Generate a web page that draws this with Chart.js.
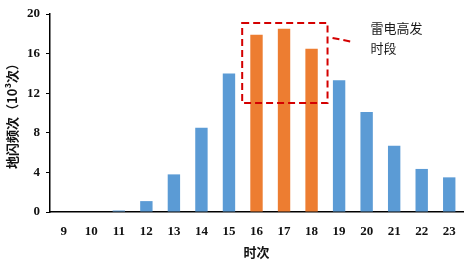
<!DOCTYPE html>
<html><head><meta charset="utf-8">
<script src="https://cdn.jsdelivr.net/npm/chart.js@4"></script>
<style>html,body{margin:0;padding:0;background:#fff}#wrap{width:476px;height:265px;position:relative}</style>
</head><body><div id="wrap"><canvas id="c" width="476" height="265"></canvas></div>
<script>
const hours = ['9','10','11','12','13','14','15','16','17','18','19','20','21','22','23'];
const flashes = [0, 0, 0.15, 1.1, 3.8, 8.5, 14.0, 17.9, 18.5, 16.5, 13.3, 10.1, 6.7, 4.35, 3.5];
const peakHours = ['16','17','18'];
const yTicks = [0, 4, 8, 12, 16, 20];
const boxRange = [11, 19.1];
const noteLines = ['雷电高发', '时段'];

const blue = '#5B9BD5', orange = '#ED7D31', red = '#D40000';
const colors = hours.map(h => peakHours.includes(h) ? orange : blue);

const boxPlugin = {
  id: 'box',
  afterDatasetsDraw(chart) {
    const {ctx, scales:{x, y}} = chart;
    const i0 = hours.indexOf(peakHours[0]);
    const i1 = hours.indexOf(peakHours[peakHours.length-1]);
    const step = x.getPixelForValue(1) - x.getPixelForValue(0);
    const left = x.getPixelForValue(i0) - step*0.52;
    const right = x.getPixelForValue(i1) + step*0.58;
    const top = y.getPixelForValue(boxRange[1]);
    const bottom = y.getPixelForValue(boxRange[0]);
    ctx.save();
    ctx.strokeStyle = red; ctx.lineWidth = 2; ctx.setLineDash([7,4]);
    ctx.strokeRect(left, top, right-left, bottom-top);
    ctx.beginPath();
    ctx.moveTo(right+5, top+15);
    ctx.lineTo(right+25, top+19);
    ctx.stroke();
    ctx.setLineDash([]);
    ctx.fillStyle = '#1a1a1a';
    ctx.font = '13px "Noto Sans CJK SC"';
    ctx.textBaseline = 'middle';
    noteLines.forEach((t, k) => ctx.fillText(t, right+43, top+5 + k*20));
    ctx.restore();
  }
};

new Chart(document.getElementById('c'), {
  type: 'bar',
  data: { labels: hours, datasets: [{ data: flashes, backgroundColor: colors, barPercentage: 0.45, categoryPercentage: 1 }] },
  options: {
    responsive: false, animation: false,
    layout: { padding: { top: 14, right: 13, left: 0, bottom: 0 } },
    plugins: { legend: { display: false }, tooltip: { enabled: false } },
    scales: {
      x: {
        grid: { display: false },
        border: { display: true, color: '#000', width: 1.5 },
        ticks: { color: '#111', font: { family: '"Liberation Serif"', size: 13, weight: 'bold' }, padding: 4, maxRotation: 0 },
        title: { display: true, text: '时次', color: '#111', font: { family: '"Noto Sans CJK SC"', size: 13, weight: 'bold' }, padding: { top: 0, bottom: 5 } },
        afterFit(s) { s.height = 53; }
      },
      y: {
        min: 0, max: 20,
        afterBuildTicks(s) { s.ticks = yTicks.map(v => ({ value: v })); },
        grid: { drawOnChartArea: false, drawTicks: true, tickLength: 4, color: '#000' },
        border: { display: true, color: '#000', width: 1.5 },
        ticks: { color: '#111', font: { family: '"Liberation Serif"', size: 13, weight: 'bold' }, padding: 6 },
        title: { display: true, text: '地闪频次（10³次）', color: '#111', font: { family: '"Noto Sans CJK SC"', size: 13, weight: 'bold' }, padding: { top: 4 } },
        afterFit(s) { s.width = 50; }
      }
    }
  },
  plugins: [boxPlugin]
});
</script></body></html>
